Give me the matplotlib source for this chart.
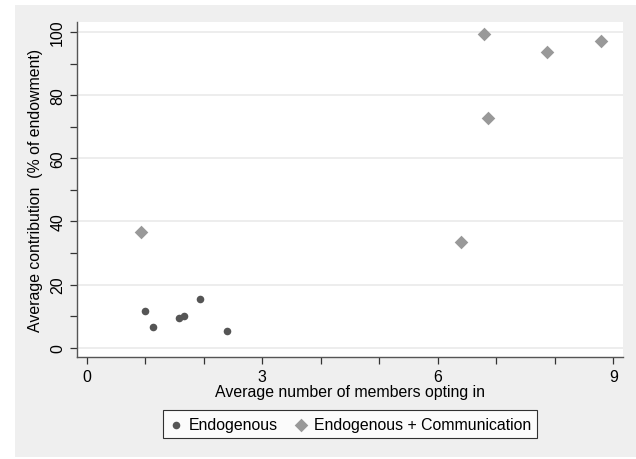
import matplotlib.pyplot as plt
from matplotlib.patches import Rectangle
from matplotlib.ticker import MultipleLocator

plt.rcParams['font.family'] = ['Liberation Sans', 'DejaVu Sans']

# Data
endo_x = [1.00, 1.14, 1.58, 1.66, 1.93, 2.40]
endo_y = [11.7, 6.4, 9.4, 10.0, 15.4, 5.4]
comm_x = [0.93, 6.39, 6.79, 6.86, 7.86, 8.79]
comm_y = [36.7, 33.4, 99.4, 72.7, 93.8, 97.1]

W, H = 636, 460
fs = 11.4
fig = plt.figure(figsize=(W / 100, H / 100), dpi=100)
fig.patch.set_facecolor('white')

# Stata-style light grey graph region, behind the axes
fig.add_artist(Rectangle((15 / W, 2 / H), (W - 15) / W, (458 - 6) / H,
                         transform=fig.transFigure, facecolor='#efefef',
                         edgecolor='none', zorder=-5))

ax = fig.add_axes([77 / W, (H - 358) / H, (623 - 77) / W, (358 - 23) / H])
ax.set_facecolor('white')

ax.scatter(endo_x, endo_y, s=30, marker='o', color='#555555', linewidths=0,
           label='Endogenous', zorder=3)
ax.scatter(comm_x, comm_y, s=48, marker='D', color='#999999', linewidths=0,
           label='Endogenous + Communication', zorder=3)

ax.set_xlim(-0.165, 9.165)
ax.set_ylim(-2.95, 103.2)
ax.set_xticks([0, 3, 6, 9])
ax.xaxis.set_minor_locator(MultipleLocator(1))
ax.set_yticks([0, 20, 40, 60, 80, 100])
ax.yaxis.set_minor_locator(MultipleLocator(10))
ax.yaxis.grid(True, color='#eaeaea', linewidth=1.2)
ax.set_axisbelow(True)

for side in ['top', 'right']:
    ax.spines[side].set_visible(False)
for side in ['left', 'bottom']:
    ax.spines[side].set_color('#555555')
    ax.spines[side].set_linewidth(1.0)

ax.tick_params(which='both', direction='out', color='#333333', width=0.9,
               labelsize=fs, length=5)
ax.tick_params(axis='y', which='major', labelrotation=90)
for lbl in ax.get_yticklabels():
    lbl.set_va('center')

ax.set_xlabel('Average number of members opting in', fontsize=fs, labelpad=0)
ax.set_ylabel('Average contribution  (% of endowment)', fontsize=fs, labelpad=5)

leg = ax.legend(loc='upper center', bbox_to_anchor=(0.5, -0.136), ncol=2,
                frameon=True, fancybox=False, edgecolor='black',
                fontsize=fs, handletextpad=0.35, columnspacing=1.0,
                borderpad=0.4, handlelength=0.9)
leg.get_frame().set_linewidth(0.8)

fig.savefig('out.png', dpi=100, facecolor=fig.get_facecolor())
